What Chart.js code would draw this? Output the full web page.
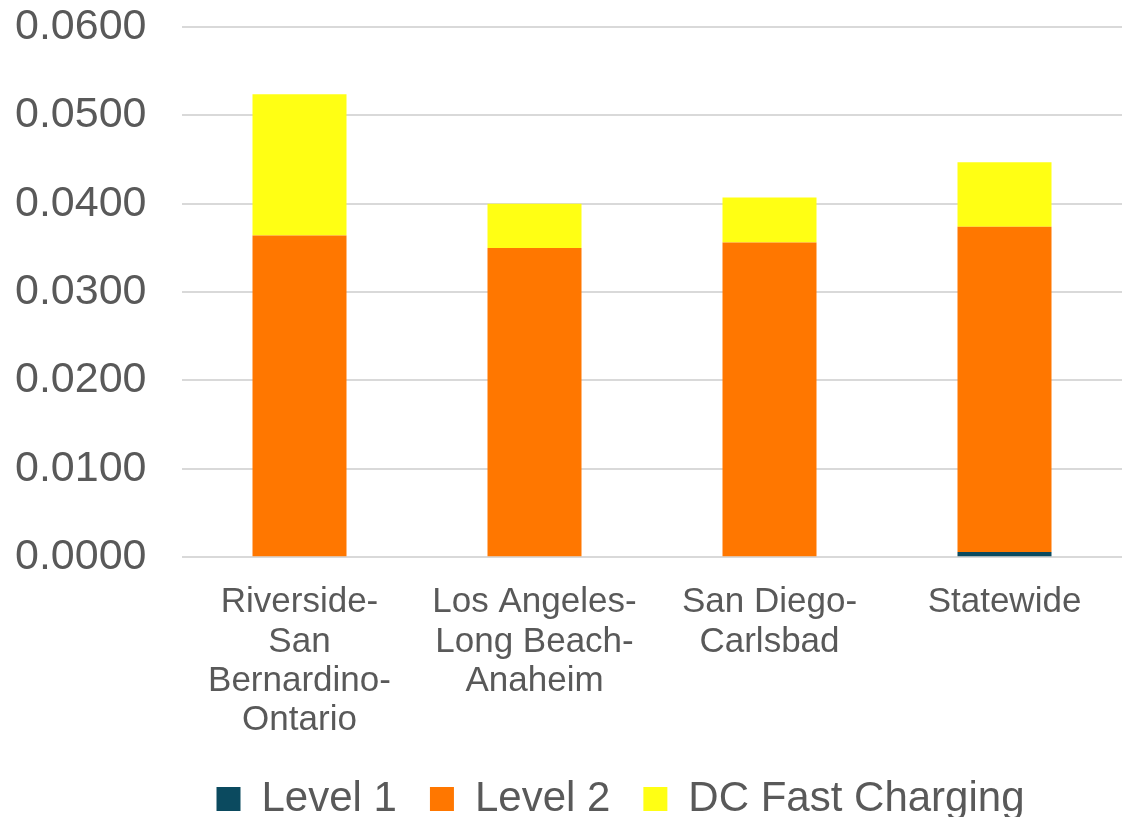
<!DOCTYPE html>
<html>
<head>
<meta charset="utf-8">
<script src="https://cdn.jsdelivr.net/npm/chart.js@4"></script>
<style>
  html, body { margin: 0; padding: 0; background: #fff; }
  #wrap { width: 1122px; height: 817px; }
</style>
</head>
<body>
<div id="wrap"><canvas id="c" width="1122" height="817"></canvas></div>
<script>
const categories = [
  ["Riverside-", "San", "Bernardino-", "Ontario"],
  ["Los Angeles-", "Long Beach-", "Anaheim"],
  ["San Diego-", "Carlsbad"],
  ["Statewide"]
];
const level1 = [0.0001, 0.0000, 0.0000, 0.0006];
const level2 = [0.0363, 0.0350, 0.0356, 0.0368];
const dcFast = [0.0160, 0.0050, 0.0051, 0.0073];
const yTicks = [0, 0.01, 0.02, 0.03, 0.04, 0.05, 0.06];

const font = "'Liberation Sans', Arial, sans-serif";
const textColor = '#595959';

// shift the legend block so it sits under the plot like the reference
const legendShift = {
  id: 'legendShift',
  afterLayout(chart) {
    if (chart.legend) { chart.legend.left += 52; chart.legend.right += 52; }
  }
};

new Chart(document.getElementById('c'), {
  type: 'bar',
  data: {
    labels: categories,
    datasets: [
      { label: 'Level 1', data: level1, backgroundColor: '#0b4a5f' },
      { label: 'Level 2', data: level2, backgroundColor: '#ff7700' },
      { label: 'DC Fast Charging', data: dcFast, backgroundColor: '#ffff14' }
    ]
  },
  plugins: [legendShift],
  options: {
    responsive: false,
    animation: false,
    devicePixelRatio: 1,
    layout: { padding: { left: 15, right: 0, top: 27, bottom: -13 } },
    datasets: { bar: { categoryPercentage: 1.0, barPercentage: 0.4 } },
    plugins: {
      legend: {
        position: 'bottom',
        labels: {
          font: { family: font, size: 42 },
          color: textColor,
          boxWidth: 24,
          boxHeight: 24,
          padding: 33
        }
      },
      tooltip: { enabled: false }
    },
    scales: {
      x: {
        stacked: true,
        grid: { display: false },
        border: { display: false },
        afterFit: (s) => { s.height -= 13; },
        ticks: {
          font: { family: font, size: 35, lineHeight: 1.12 },
          color: textColor,
          maxRotation: 0,
          padding: 18
        }
      },
      y: {
        stacked: true,
        min: 0,
        max: 0.06,
        afterBuildTicks: (axis) => { axis.ticks = yTicks.map(v => ({ value: v })); },
        afterFit: (s) => { s.width = 167; },
        grid: { color: '#d9d9d9', lineWidth: 2, drawTicks: false },
        border: { display: false },
        ticks: {
          font: { family: font, size: 43 },
          color: textColor,
          padding: 0,
          crossAlign: 'far',
          callback: (v) => Number(v).toFixed(4)
        }
      }
    }
  }
});
</script>
</body>
</html>
